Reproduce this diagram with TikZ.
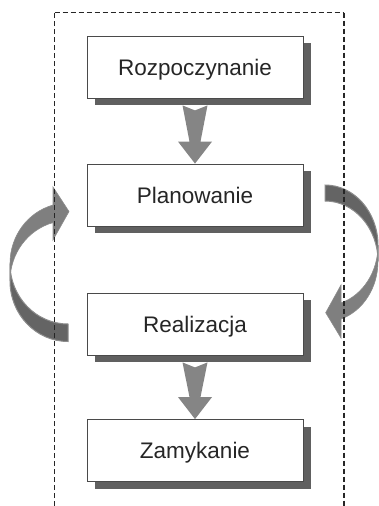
\documentclass[tikz,border=0pt]{standalone}
\usepackage{fontspec}
\setmainfont{Liberation Sans}
\usetikzlibrary{shadows,calc}
\definecolor{boxline}{HTML}{4A4A4A}
\definecolor{shadowcol}{HTML}{606060}
\definecolor{txtcol}{HTML}{262626}
\definecolor{arrowcol}{HTML}{858585}
\definecolor{frontgray}{HTML}{7F7F7F}
\definecolor{backgray}{HTML}{646464}
\definecolor{edgegray}{HTML}{8C8C8C}
\newcommand\blockdown[2]{%
  \fill[arrowcol] ($(#1)+(-12.5,0)$) -- ($(#1)+(0,-5)$) -- ($(#1)+(12.5,0)$)
    -- ($(#2)+(5.5,22)$) -- ($(#2)+(17,22)$) -- (#2) -- ($(#2)+(-17,22)$)
    -- ($(#2)+(-5.5,22)$) -- cycle;}
\begin{document}
\begin{tikzpicture}[x=1pt,y=1pt,
  stagebox/.style={draw=boxline, line width=0.8pt, fill=white,
    minimum width=216pt, minimum height=62pt, inner sep=0pt,
    text height=16pt, text depth=0pt,
    font=\fontsize{22.5}{27}\selectfont, text=txtcol,
    drop shadow={shadow xshift=8pt, shadow yshift=-7pt, fill=shadowcol, opacity=1}},
  framedash/.style={draw=black!85, dash pattern=on 5pt off 3pt},
  frontface/.style={fill=frontgray, draw=edgegray, line width=0.6pt},
  backface/.style={fill=backgray, draw=edgegray, line width=1pt}]
\useasboundingbox (0,0) rectangle (378,-506);

% stages
\node[stagebox] (b1) at (195,-67) {Rozpoczynanie};
\node[stagebox] (b2) at (195,-195) {Planowanie};
\node[stagebox] (b3) at (195,-324) {Realizacja};
\node[stagebox] (b4) at (195,-450.5) {Zamykanie};

% straight block arrows
\coordinate (a1top) at ($(b1.south)+(0,-7)$);
\coordinate (a2top) at ($(b3.south)+(0,-7)$);
\blockdown{a1top}{b2.north}
\blockdown{a2top}{b4.north}

% right curved arrow (Planowanie -> Realizacja)
\path[backface] (325,-185) arc[start angle=90, end angle=0, x radius=53, y radius=60.4]
  -- (378,-261.4) arc[start angle=0, end angle=90, x radius=53, y radius=60.4] -- cycle;
\path[frontface] (378,-245.4) arc[start angle=0, end angle=-72.4, x radius=53, y radius=60.4]
  -- (341,-285) -- (325.7,-312.7) -- (341,-338) -- (341,-319)
  arc[start angle=-72.4, end angle=0, x radius=53, y radius=60.4] -- cycle;

% left curved arrow (Realizacja -> Planowanie)
\path[backface] (10,-263.5) arc[start angle=180, end angle=270, x radius=58, y radius=60.5]
  -- (68,-341.5) arc[start angle=270, end angle=180, x radius=58, y radius=60.5] -- cycle;
\path[frontface] (53,-205.1) -- (53,-187) -- (69,-211.5) -- (53,-240) -- (53,-222.6)
  arc[start angle=105, end angle=180, x radius=58, y radius=60.5]
  -- (10,-263.5) arc[start angle=180, end angle=105, x radius=58, y radius=60.5] -- cycle;

% dashed frame
\draw[framedash, line width=0.8pt] (54.5,-506) -- (54.5,-12.5);
\draw[framedash, line width=1pt] (54.5,-12.5) -- (344,-12.5);
\draw[framedash, line width=1.6pt] (344,-12.5) -- (344,-506);
\end{tikzpicture}
\end{document}
